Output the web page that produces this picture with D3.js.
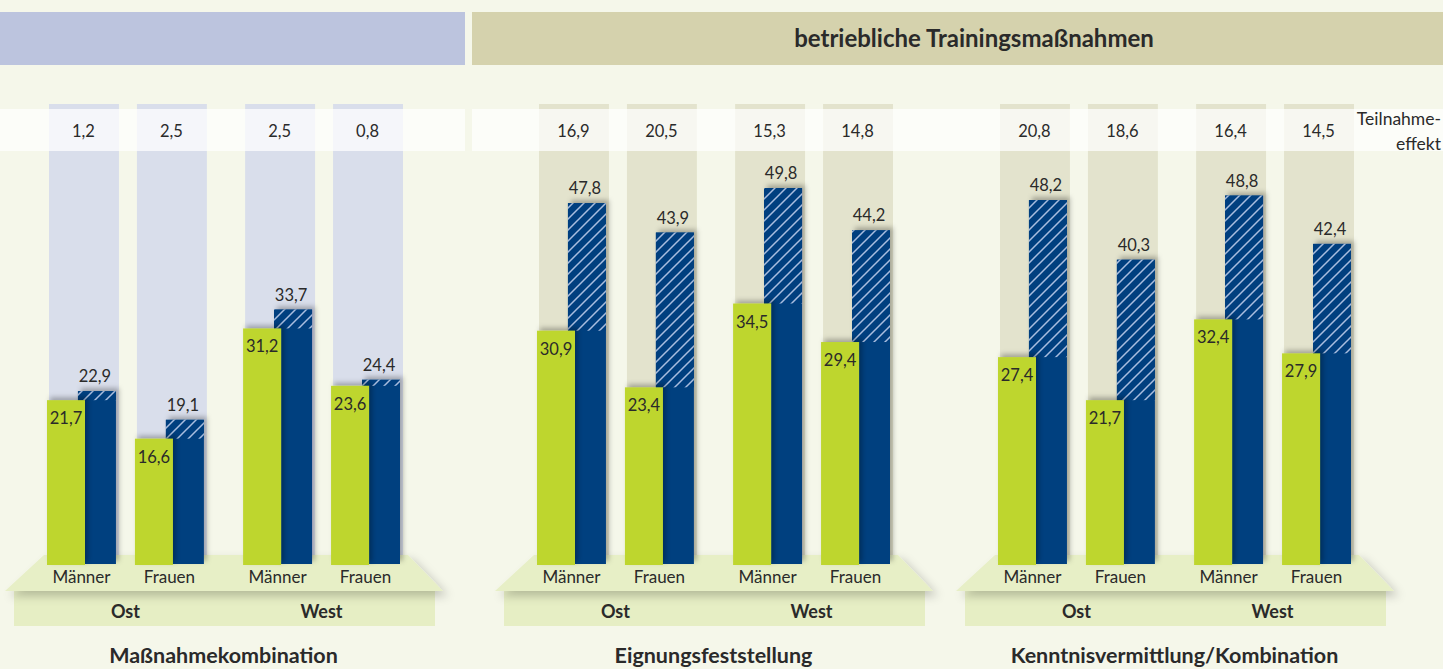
<!DOCTYPE html>
<html lang="de">
<head>
<meta charset="utf-8">
<title>Teilnahmeeffekt – betriebliche Trainingsmaßnahmen</title>
<script src="https://d3js.org/d3.v7.min.js"></script>
<style>
  body { margin: 0; background: #f5f7ea; }
  svg { display: block; font-family: Lato, "Open Sans", sans-serif; }
  .val { font-size: 16.5px; fill: #2a2a2a; text-anchor: middle; }
  .cat { font-size: 17px; fill: #2a2a2a; text-anchor: middle; }
  .region { font-size: 18px; font-weight: bold; fill: #2a2a2a; text-anchor: middle; }
  .title { font-size: 21.5px; font-weight: bold; fill: #2a2a2a; text-anchor: middle; }
</style>
</head>
<body>
<script>
// data
const panels = ["Maßnahmekombination", "Eignungsfeststellung", "Kenntnisvermittlung/Kombination"];
const regions = ["Ost", "West"];
const genders = ["Männer", "Frauen"];
// green bars (first value), order: Ost Männer, Ost Frauen, West Männer, West Frauen
const greenValues = [
  [21.7, 16.6, 31.2, 23.6],
  [30.9, 23.4, 34.5, 29.4],
  [27.4, 21.7, 32.4, 27.9]
];
// blue bars (second value)
const blueValues = [
  [22.9, 19.1, 33.7, 24.4],
  [47.8, 43.9, 49.8, 44.2],
  [48.2, 40.3, 48.8, 42.4]
];
// Teilnahmeeffekt row
const effectValues = [
  [1.2, 2.5, 2.5, 0.8],
  [16.9, 20.5, 15.3, 14.8],
  [20.8, 18.6, 16.4, 14.5]
];
const headerText = "betriebliche Trainingsmaßnahmen";
const effectLabel = ["Teilnahme-", "effekt"];

// layout
const w = 1443, h = 669;
const panelX = [0, 490, 951];
const colColors = ["#d9deeb", "#e3e3cd", "#e3e3cd"];
const green = "#bed62f", blue = "#003f7f";
const fmt = v => d3.format(".1f")(v).replace(".", ",");

const svg = d3.select("body").append("svg")
  .attr("width", w).attr("height", h);

const defs = svg.append("defs");
const hatch = defs.append("pattern")
  .attr("id", "hatch").attr("patternUnits", "userSpaceOnUse")
  .attr("width", 11).attr("height", 11);
hatch.append("rect").attr("width", 11).attr("height", 11).attr("fill", blue);
hatch.append("path")
  .attr("d", "M-1,12 L12,-1 M-3,3 L3,-3 M8,14 L14,8")
  .attr("stroke", "#a9bddf").attr("stroke-width", 1.5);

const barShadow = defs.append("filter").attr("id", "barShadow")
  .attr("x", "-30%").attr("y", "-30%").attr("width", "160%").attr("height", "160%");
barShadow.append("feDropShadow").attr("dx", 3).attr("dy", -3)
  .attr("stdDeviation", 2.5).attr("flood-color", "#000").attr("flood-opacity", 0.28);

const baseShadow = defs.append("filter").attr("id", "baseShadow")
  .attr("x", "-10%").attr("y", "-50%").attr("width", "120%").attr("height", "220%");
baseShadow.append("feDropShadow").attr("dx", 5).attr("dy", 5)
  .attr("stdDeviation", 5).attr("flood-color", "#000").attr("flood-opacity", 0.22);

svg.append("rect").attr("width", w).attr("height", h).attr("fill", "#f5f7ea");

// header bands
svg.append("rect").attr("x", 0).attr("y", 12).attr("width", 465).attr("height", 53).attr("fill", "#bcc4de");
svg.append("rect").attr("x", 472).attr("y", 12).attr("width", w - 472).attr("height", 53).attr("fill", "#d5d2ad");
svg.append("text").attr("class", "title")
  .attr("x", 974).attr("y", 47).style("font-size", "24px")
  .text(headerText);

const y = d3.scaleLinear().domain([0, 60]).range([564, 111]);

panels.forEach((name, p) => {
  const g = svg.append("g").attr("transform", `translate(${panelX[p]},0)`);

  const x0 = d3.scaleBand().domain(regions).range([47, 400]).paddingInner(0.2);
  const x1 = d3.scaleBand().domain(genders).range([0, x0.bandwidth()]).paddingInner(0.216);
  const bw = x1.bandwidth();
  const gw = Math.round(bw * 0.55);

  const items = d3.range(4).map(i => ({
    region: regions[Math.floor(i / 2)],
    gender: genders[i % 2],
    green: greenValues[p][i],
    blue: blueValues[p][i],
    effect: effectValues[p][i]
  }));
  const gx = d => x0(d.region) + x1(d.gender);

  // background columns
  g.selectAll(".col").data(items).join("rect")
    .attr("x", d => gx(d) + 2).attr("y", 104)
    .attr("width", bw + 1).attr("height", y(0) - 104)
    .attr("fill", colColors[p]);

  // base: rect + trapezoid
  const [L, R] = x0.range();
  g.append("rect")
    .attr("x", L - 33).attr("y", 590).attr("width", R - L + 68).attr("height", 36)
    .attr("fill", "#e6eec4");
  g.append("path")
    .attr("d", `M${L - 3},555 L${R + 8},555 L${R + 43},591 L${L - 42},591 Z`)
    .attr("fill", "#e7efc6").attr("filter", "url(#baseShadow)");

  // blue bars (behind), hatched part = Teilnahmeeffekt
  g.selectAll(".blue").data(items).join("rect")
    .attr("x", d => gx(d) + bw - gw).attr("y", d => y(d.blue))
    .attr("width", gw).attr("height", d => y(0) - y(d.blue))
    .attr("fill", blue).attr("filter", "url(#barShadow)");
  g.selectAll(".hatch").data(items).join("rect")
    .attr("x", d => gx(d) + bw - gw).attr("y", d => y(d.blue))
    .attr("width", gw).attr("height", d => y(d.green) - y(d.blue))
    .attr("fill", "url(#hatch)");

  // green bars
  g.selectAll(".green").data(items).join("rect")
    .attr("x", d => gx(d)).attr("y", d => y(d.green))
    .attr("width", gw).attr("height", d => y(0) - y(d.green) + 1)
    .attr("fill", green).attr("filter", "url(#barShadow)");

  // value labels
  g.selectAll(".gl").data(items).join("text").attr("class", "val")
    .attr("x", d => gx(d) + gw / 2).attr("y", d => y(d.green) + 24)
    .text(d => fmt(d.green));
  g.selectAll(".bl").data(items).join("text").attr("class", "val")
    .attr("x", d => gx(d) + bw - gw / 2 - 2).attr("y", d => y(d.blue) - 9)
    .text(d => fmt(d.blue));

  // category labels
  g.selectAll(".cl").data(items).join("text").attr("class", "cat")
    .attr("x", d => gx(d) + bw / 2).attr("y", 583)
    .text(d => d.gender);
  g.selectAll(".rl").data(regions).join("text").attr("class", "region")
    .attr("x", d => x0(d) + x0.bandwidth() / 2).attr("y", 618)
    .text(d => d);
  g.append("text").attr("class", "title")
    .attr("x", (L + R) / 2).attr("y", 663)
    .text(name);
});

// Teilnahmeeffekt strip (translucent, over the columns)
svg.append("rect").attr("x", 0).attr("y", 109).attr("width", 465).attr("height", 42)
  .attr("fill", "#fff").attr("opacity", 0.72);
svg.append("rect").attr("x", 472).attr("y", 109).attr("width", w - 472).attr("height", 42)
  .attr("fill", "#fff").attr("opacity", 0.72);

panels.forEach((name, p) => {
  const x0 = d3.scaleBand().domain(regions).range([47, 400]).paddingInner(0.2);
  const x1 = d3.scaleBand().domain(genders).range([0, x0.bandwidth()]).paddingInner(0.216);
  const bw = x1.bandwidth();
  svg.append("g").attr("transform", `translate(${panelX[p]},0)`)
    .selectAll("text").data(effectValues[p]).join("text").attr("class", "val")
    .attr("x", (d, i) => x0(regions[Math.floor(i / 2)]) + x1(genders[i % 2]) + 2 + bw / 2)
    .attr("y", 137)
    .text(d => fmt(d));
});

svg.append("text").attr("text-anchor", "end").attr("fill", "#2a2a2a")
  .style("font-size", "17.5px")
  .selectAll("tspan").data(effectLabel).join("tspan")
  .attr("x", 1441).attr("y", (d, i) => 125 + i * 25)
  .text(d => d);
</script>
</body>
</html>
